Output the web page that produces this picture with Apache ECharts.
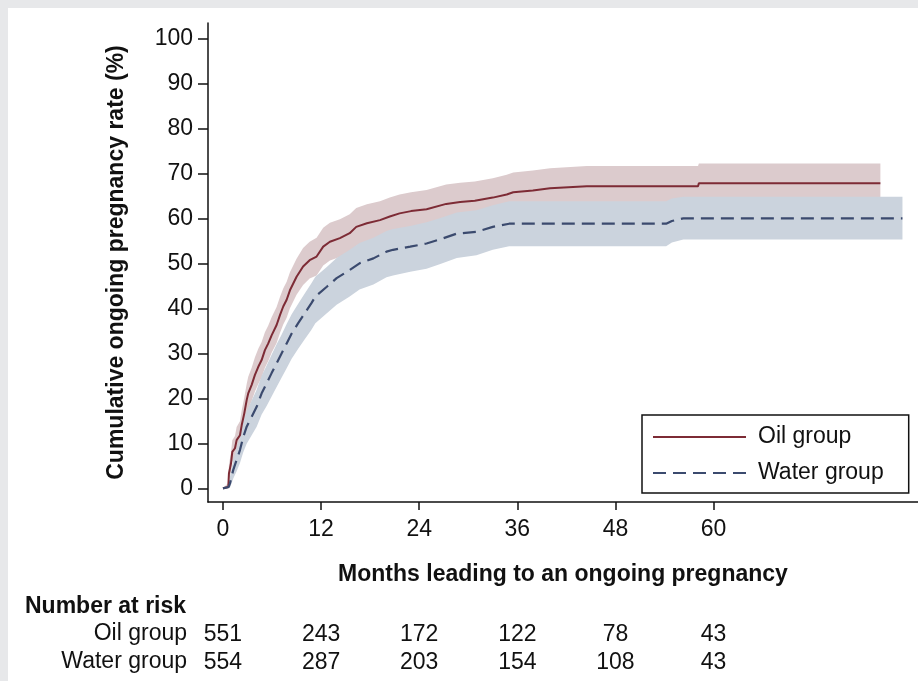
<!DOCTYPE html>
<html>
<head>
<meta charset="utf-8">
<script src="https://cdn.jsdelivr.net/npm/echarts@6/dist/echarts.min.js"></script>
<style>
html,body{margin:0;padding:0;background:#e7e8ea;}
#chart{width:918px;height:681px;}
</style>
</head>
<body>
<div id="chart"></div>
<script>
// ---- data ----
const xTicks = [0, 12, 24, 36, 48, 60];
const yTicks = [0, 10, 20, 30, 40, 50, 60, 70, 80, 90, 100];

// points along each Kaplan-Meier curve (months, %) with 95% band
const oilTime  = [0,0.65,0.73,0.98,1.14,1.47,1.67,2.08,2.29,2.6,2.9,3.09,3.51,3.91,4.32,4.73,5.13,5.54,5.95,6.56,6.97,7.37,7.79,8.19,9.0,9.8,10.6,11.45,12.26,13.08,14.3,15.5,16.3,17.6,19.2,20.4,21.6,23.0,24.9,27.3,29.0,30.8,33.0,34.7,35.5,37.9,40.0,44.5,58.1,58.2,80.4];
const oilValue = [0,0.3,3.3,5.5,8.1,8.9,10.7,11.8,14.0,16.6,19.6,21.1,23.0,25.2,27.0,28.5,30.7,32.2,34.0,36.3,38.5,40.4,41.9,44.0,47.0,49.3,50.7,51.5,53.7,54.8,55.6,56.7,58.1,58.9,59.6,60.4,61.1,61.6,62.0,63.2,63.6,63.9,64.6,65.3,65.8,66.2,66.7,67.1,67.1,67.8,67.8];
const oilUpper = [0,1.2,5.3,7.9,10.7,11.6,13.6,14.9,17.3,20.1,23.2,24.8,26.8,29.1,31.0,32.5,34.7,36.2,38.0,40.3,42.5,44.4,45.9,48.0,51.0,53.4,54.8,55.7,57.9,59.0,59.8,60.9,62.3,63.1,63.8,64.6,65.3,65.8,66.3,67.5,67.9,68.2,68.9,69.7,70.2,70.6,71.1,71.6,71.6,72.2,72.2];
const oilLower = [0,0,1.8,3.6,5.9,6.6,8.2,9.1,11.0,13.4,16.2,17.6,19.4,21.5,23.2,24.6,26.8,28.3,30.1,32.3,34.5,36.4,37.9,40.0,43.0,45.2,46.6,47.3,49.5,50.6,51.4,52.5,53.9,54.7,55.4,56.2,56.9,57.4,57.7,58.9,59.3,59.6,60.3,60.9,61.4,61.8,62.3,62.6,62.6,63.3,63.3];

const waterTime  = [0,0.7,0.86,1.26,1.67,2.08,2.48,2.9,3.51,4.12,4.73,5.34,5.95,6.56,7.18,7.79,8.4,9.2,10.0,10.8,11.3,12.7,13.9,15.5,16.7,18.4,20.0,20.8,22.9,24.9,26.5,28.6,31.0,33.0,35.0,54.2,54.9,56.3,83.1];
const waterValue = [0,0.3,1.1,4.1,6.3,8.5,11.4,13.7,15.9,18.1,21.1,23.3,25.6,27.8,30.0,32.2,34.4,36.7,38.9,41.1,42.6,44.8,46.7,48.5,50.0,51.1,52.6,53.0,53.7,54.4,55.3,56.6,57.0,58.1,58.8,58.8,59.4,60.0,60.0];
const waterUpper = [0,0.8,2.6,6.3,8.9,11.4,14.6,17.1,19.5,21.9,25.0,27.3,29.7,32.0,34.2,36.5,38.7,41.0,43.3,45.5,47.0,49.2,51.2,53.0,54.5,55.7,57.2,57.6,58.3,59.1,60.0,61.3,61.8,62.9,63.8,63.8,64.4,64.8,64.8];
const waterLower = [0,0,0.2,2.2,3.8,5.6,8.0,9.9,11.8,13.7,16.4,18.3,20.4,22.5,24.6,26.7,28.8,31.0,33.1,35.2,36.7,38.9,40.8,42.6,44.2,45.3,46.9,47.3,48.1,48.8,49.8,51.2,51.8,53.0,53.8,53.8,54.6,55.3,55.3];

const oilRisk   = [551, 243, 172, 122, 78, 43];
const waterRisk = [554, 287, 203, 154, 108, 43];

// ---- chart ----
const FONT = "'Liberation Sans', Arial, sans-serif";
const X_MIN = -1.83, X_MAX = 85;
const Y_MIN = -3.04, Y_MAX = 103.4;

function pairs(t, v) { return t.map((x, i) => [x, v[i]]); }

function band(name, t, up, lo, color) {
  return {
    type: 'custom', name: name, silent: true, z: 1,
    xAxisIndex: 0, yAxisIndex: 0,
    data: [[0, 0]],
    renderItem: function (params, api) {
      const pts = [];
      for (let i = 0; i < t.length; i++) pts.push(api.coord([t[i], up[i]]));
      for (let i = t.length - 1; i >= 0; i--) pts.push(api.coord([t[i], lo[i]]));
      return { type: 'polygon', shape: { points: pts }, style: { fill: color } };
    }
  };
}

function riskAxis(offset, values) {
  return {
    type: 'value', min: X_MIN, max: X_MAX, position: 'bottom', offset: offset,
    axisLine: { show: false }, axisTick: { show: false }, splitLine: { show: false },
    axisLabel: {
      customValues: xTicks, margin: 0, fontSize: 23, fontFamily: FONT, color: '#111',
      formatter: function (v) { const i = xTicks.indexOf(v); return i >= 0 ? String(values[i]) : ''; }
    }
  };
}

const chart = echarts.init(document.getElementById('chart'));
chart.setOption({
  animation: false,
  backgroundColor: '#e7e8ea',
  graphic: [
    { type: 'rect', z: -10, shape: { x: 8, y: 8, width: 910, height: 673 }, style: { fill: '#ffffff' } },
    { type: 'text', x: 25, y: 607, style: { text: 'Number at risk', fontSize: 23, fontWeight: 'bold', fontFamily: FONT, fill: '#111', align: 'left', verticalAlign: 'middle' } },
    { type: 'text', x: 187, y: 634, style: { text: 'Oil group', fontSize: 23, fontFamily: FONT, fill: '#111', align: 'right', verticalAlign: 'middle' } },
    { type: 'text', x: 187, y: 662, style: { text: 'Water group', fontSize: 23, fontFamily: FONT, fill: '#111', align: 'right', verticalAlign: 'middle' } }
  ],
  grid: { left: 208, top: 23, width: 710, height: 479, containLabel: false },
  legend: {
    orient: 'vertical', left: 642, top: 415,
    data: ['Oil group', 'Water group'],
    itemWidth: 93, itemHeight: 14, itemGap: 10,
    padding: [9, 25, 7, 10],
    borderColor: '#111', borderWidth: 1.5, backgroundColor: '#ffffff',
    itemStyle: { color: 'rgba(0,0,0,0)', borderColor: 'rgba(0,0,0,0)', borderWidth: 0 },
    textStyle: { fontSize: 23, fontFamily: FONT, color: '#111', lineHeight: 26, padding: [0, 0, 0, 7] }
  },
  xAxis: [
    {
      type: 'value', min: X_MIN, max: X_MAX, position: 'bottom',
      name: 'Months leading to an ongoing pregnancy', nameLocation: 'middle', nameGap: 61,
      nameTextStyle: { fontSize: 23, fontWeight: 'bold', fontFamily: FONT, color: '#111' },
      axisLine: { onZero: false, lineStyle: { color: '#111', width: 1.5 } },
      axisTick: { customValues: xTicks, length: 8, lineStyle: { color: '#111', width: 1.5 } },
      axisLabel: { customValues: xTicks, margin: 16, fontSize: 23, fontFamily: FONT, color: '#111' },
      splitLine: { show: false }
    },
    riskAxis(121, oilRisk),
    riskAxis(149, waterRisk)
  ],
  yAxis: {
    type: 'value', min: Y_MIN, max: Y_MAX,
    name: 'Cumulative ongoing pregnancy rate (%)', nameLocation: 'middle', nameGap: 80, nameRotate: 90,
    nameTextStyle: { fontSize: 23, fontWeight: 'bold', fontFamily: FONT, color: '#111' },
    axisLine: { show: true, onZero: false, lineStyle: { color: '#111', width: 1.5 } },
    axisTick: { show: true, customValues: yTicks, length: 10, lineStyle: { color: '#111', width: 1.5 } },
    axisLabel: { customValues: yTicks, margin: 15, fontSize: 23, fontFamily: FONT, color: '#111' },
    splitLine: { show: false }
  },
  series: [
    band('Oil CI', oilTime, oilUpper, oilLower, '#dccbcd'),
    band('Water CI', waterTime, waterUpper, waterLower, '#cbd3dd'),
    {
      name: 'Oil group', type: 'line', symbol: 'none', z: 3,
      data: pairs(oilTime, oilValue),
      lineStyle: { color: '#7d2b35', width: 2 }, itemStyle: { color: '#7d2b35' }
    },
    {
      name: 'Water group', type: 'line', symbol: 'none', z: 3,
      data: pairs(waterTime, waterValue),
      lineStyle: { color: '#3b4a6e', width: 2.2, type: [13, 7] }, itemStyle: { color: '#3b4a6e' }
    }
  ]
});
</script>
</body>
</html>
